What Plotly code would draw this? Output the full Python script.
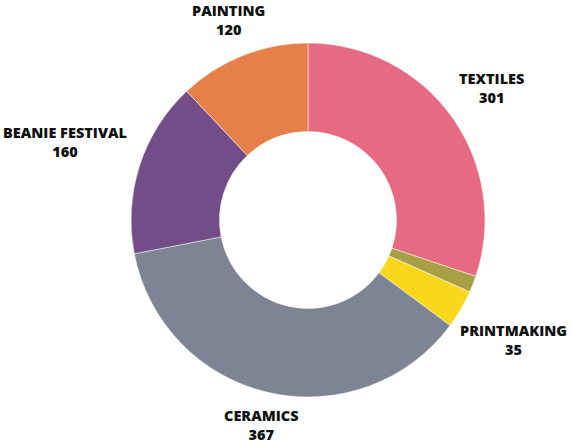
import math
import plotly.graph_objects as go

labels = ["TEXTILES", "OTHER", "PRINTMAKING", "CERAMICS", "BEANIE FESTIVAL", "PAINTING"]
values = [301, 15, 35, 367, 160, 120]
colors = ["#E56A82", "#A8A044", "#F9D71C", "#7F8494", "#734D87", "#E5804A"]
show_label = [True, False, True, True, True, True]

W, H = 572, 443
CX, CY, R = 308, 220, 177   # pie centre / radius in px
GAP = 8
FS = 14.5
LINE_H = 20

dom_x = [(CX - R) / W, (CX + R) / W]
dom_y = [1 - (CY + R) / H, 1 - (CY - R) / H]

fig = go.Figure(go.Pie(
    labels=labels,
    values=values,
    textinfo="none",
    hole=0.5,
    sort=False,
    direction="clockwise",
    rotation=0,
    marker=dict(colors=colors, line=dict(color="white", width=0.5)),
    domain=dict(x=dom_x, y=dom_y),
    hoverinfo="label+value",
))

# label placement: box centre along mid-angle so its nearest point sits GAP px outside the ring
total = sum(values)
cum = 0
annotations = []
for lab, val, show in zip(labels, values, show_label):
    mid = (cum + val / 2) / total * 2 * math.pi
    cum += val
    if not show:
        continue
    ux, uy = math.sin(mid), -math.cos(mid)
    hw = 0.64 * 14 * max(len(lab), len(str(val))) / 2
    hh = LINE_H
    lo, hi = 0.0, 600.0
    for _ in range(60):
        t = (lo + hi) / 2
        bx, by = t * ux, t * uy
        nx = max(abs(bx) - hw, 0)
        ny = max(abs(by) - hh, 0)
        if math.hypot(nx, ny) < R + GAP:
            lo = t
        else:
            hi = t
    px, py = CX + t * ux, CY + t * uy
    annotations.append(dict(
        x=px / W, y=1 - py / H, xref="paper", yref="paper",
        text=f"{lab}<br>{val}", showarrow=False,
        xanchor="center", yanchor="middle", align="center",
        font=dict(family="Open Sans", size=FS, color="#111111", weight=800),
    ))

fig.update_layout(
    width=W, height=H,
    margin=dict(l=0, r=0, t=0, b=0),
    showlegend=False,
    paper_bgcolor="white",
    plot_bgcolor="white",
    annotations=annotations,
)

fig.write_html("out.html", config={"displayModeBar": False},
               post_script="document.body.style.margin='0';")
